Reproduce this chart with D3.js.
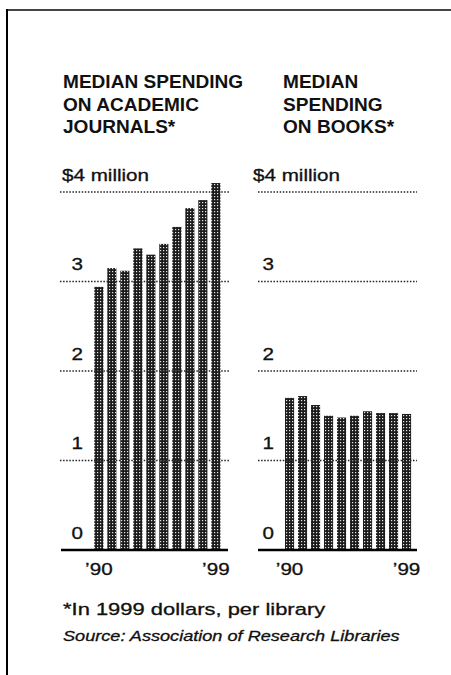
<!DOCTYPE html>
<html>
<head>
<meta charset="utf-8">
<script src="https://cdn.jsdelivr.net/npm/d3@7"></script>
<style>
  body { margin: 0; background: #fff; }
  text { font-family: "Liberation Sans", Arial, Helvetica, sans-serif; fill: #111; }
  text.plain { stroke: #111; stroke-width: 0.3; }
</style>
</head>
<body>
<div class="chart"></div>
<script>
/*************** DATA ***************/
// values in millions of 1999 dollars, per library
var years = [1990, 1991, 1992, 1993, 1994, 1995, 1996, 1997, 1998, 1999];
var journals = [2.94, 3.15, 3.12, 3.37, 3.30, 3.42, 3.61, 3.82, 3.91, 4.10];
var books = [1.70, 1.72, 1.62, 1.50, 1.48, 1.50, 1.55, 1.53, 1.53, 1.52];
var yTicks = [0, 1, 2, 3, 4];
var journalsTitle = ['MEDIAN SPENDING', 'ON ACADEMIC', 'JOURNALS*'];
var booksTitle = ['MEDIAN', 'SPENDING', 'ON BOOKS*'];
var yearLabels = { 1990: '\u201990', 1999: '\u201999' };
var footnote = '*In 1999 dollars, per library';
var source = 'Source: Association of Research Libraries';

const width = 451;
const height = 675;
const stretch = 1.25; // the printed type is wider than Liberation Sans

var svg = d3.select('.chart')
  .append('svg')
  .attr('width', width)
  .attr('height', height);

// halftone fill for the bars
var pat = svg.append('defs').append('pattern')
  .attr('id', 'dots')
  .attr('patternUnits', 'userSpaceOnUse')
  .attr('width', 3)
  .attr('height', 3);
pat.append('rect').attr('width', 3).attr('height', 3).attr('fill', '#1c1c1c');
pat.append('rect').attr('x', 1).attr('y', 1).attr('width', 1.2).attr('height', 1.2).attr('fill', '#e6e6e6');

// frame: top and left rules
svg.append('line')
  .attr('x1', 7).attr('x2', width).attr('y1', 10).attr('y2', 10)
  .attr('stroke', '#444').attr('stroke-width', 1.8);
svg.append('line')
  .attr('x1', 7).attr('x2', 7).attr('y1', 9).attr('y2', height)
  .attr('stroke', '#000').attr('stroke-width', 2);

// shared vertical scale
var y = d3.scaleLinear().domain([0, 4]).range([550, 192]);

// put a horizontally stretched text
function label(g, str, x, yPos, opts) {
  opts = opts || {};
  return g.append('text')
    .attr('class', opts.weight ? 'bold' : 'plain')
    .attr('transform', `translate(${x},${yPos}) scale(${opts.sx || stretch},1)`)
    .attr('text-anchor', opts.anchor || 'start')
    .style('font-size', (opts.size || 16.5) + 'px')
    .style('font-weight', opts.weight || 'normal')
    .style('font-style', opts.style || 'normal')
    .text(str);
}

function panel(values, title, cfg) {
  var g = svg.append('g');

  // title
  title.forEach((t, i) => {
    label(g, t, cfg.titleX, 88 + i * 22.5, { size: 18, weight: 'bold', sx: 1.06 });
  });

  var x = d3.scaleBand()
    .domain(years)
    .range(cfg.band)
    .padding(0.3);

  // bars
  g.selectAll('.bar')
    .data(values)
    .enter()
    .append('rect')
    .attr('class', 'bar')
    .attr('x', (d, i) => x(years[i]))
    .attr('width', x.bandwidth())
    .attr('y', d => y(d))
    .attr('height', d => y(0) - y(d))
    .attr('fill', 'url(#dots)');

  // dotted gridlines drawn over the bars
  g.selectAll('.grid')
    .data(yTicks.filter(d => d > 0))
    .enter()
    .append('line')
    .attr('x1', cfg.grid[0]).attr('x2', cfg.grid[1])
    .attr('y1', d => y(d)).attr('y2', d => y(d))
    .attr('stroke', '#222')
    .attr('stroke-width', 1.4)
    .attr('stroke-dasharray', '1.5,1.6');

  // baseline
  g.append('line')
    .attr('x1', cfg.base[0]).attr('x2', cfg.base[1])
    .attr('y1', y(0)).attr('y2', y(0))
    .attr('stroke', '#000')
    .attr('stroke-width', 2.5);

  // tick labels
  yTicks.forEach(t => {
    if (t === 4) {
      label(g, '$4 million', cfg.labelEnd - 21, y(t) - 11.5);
    } else {
      label(g, String(t), cfg.labelEnd, y(t) - 11.5, { anchor: 'end' });
    }
  });

  // year labels
  Object.keys(yearLabels).forEach(yr => {
    label(g, yearLabels[yr], x(+yr) + x.bandwidth() / 2, 575, { anchor: 'middle' });
  });
}

panel(journals, journalsTitle, {
  titleX: 63, band: [90.4, 224.3], grid: [60, 230], base: [61, 228], labelEnd: 83
});
panel(books, booksTitle, {
  titleX: 283, band: [281.1, 415], grid: [258, 417], base: [258, 417], labelEnd: 274
});

// notes
label(svg, footnote, 63, 615, { size: 16.5, sx: 1.33 });
label(svg, source, 63, 641, { size: 14.5, style: 'italic' });
</script>
</body>
</html>
